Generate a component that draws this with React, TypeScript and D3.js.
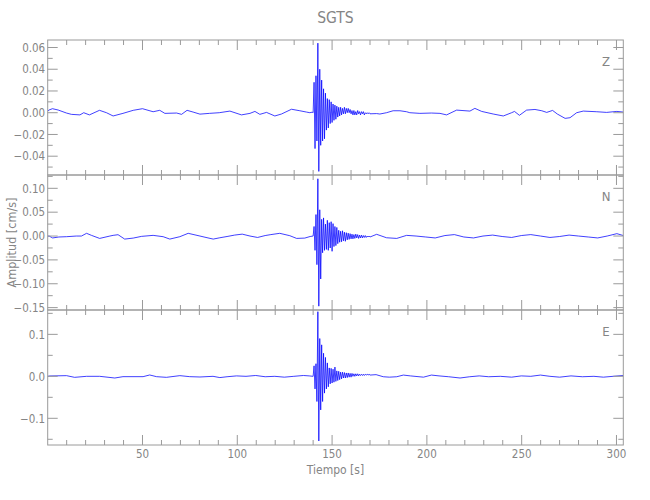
import React from "react";
import * as d3 from "d3";

const titleText = "SGTS";
const xLabelText = "Tiempo [s]";
const yLabelText = "Amplitud [cm/s]";
const channelNames = ["Z", "N", "E"];
const xMajorTicks = [50, 100, 150, 200, 250, 300];
const zMajorTicks = [0.06, 0.04, 0.02, 0.0, -0.02, -0.04];
const nMajorTicks = [0.1, 0.05, 0.0, -0.05, -0.1, -0.15];
const eMajorTicks = [0.1, 0.0, -0.1];

// uniformly sampled strong-motion window (s)
const eventStart = 140.0;
const eventStep = 0.5;

// Z component
const zPre: [number, number][] = [
  [0, 0.0015], [0.7, 0.0025], [2.5, 0.0037], [5.5, 0.0025], [9.9, -0.0003], [12.5, -0.0015],
  [17.0, -0.002], [19.0, 0.0], [22.0, -0.002], [27.3, 0.0022], [31.0, 0.0], [34.5, -0.003],
  [39.7, -0.0006], [45.1, 0.0022], [50.0, 0.0037], [55.6, 0.0009], [59.1, 0.0022], [61.8, -0.0006],
  [68.0, -0.0003], [70.6, -0.0015], [73.5, 0.0022], [76.7, 0.0006], [80.3, -0.0013], [85.3, -0.0006],
  [90.5, 0.0], [96.1, 0.0015], [102.2, -0.002], [106.7, -0.0006], [109.3, 0.0012], [111.9, -0.0015],
  [115.4, 0.0003], [119.8, -0.003], [123.3, -0.0012], [128.6, 0.0032], [133.0, 0.0018], [136.5, 0.0006],
  [138.3, 0.0], [139.5, 0.0005],
];
const zEvent = [
  0.0, 0.028, -0.033, 0.034, -0.026, 0.064, -0.054, 0.04, -0.03, 0.03, -0.026, 0.022, -0.024, 0.018,
  -0.016, 0.013, -0.014, 0.012, -0.01, 0.01, -0.009, 0.008, -0.007, 0.007, -0.006, 0.006, -0.004, 0.005,
  -0.003, 0.005, -0.002, 0.004, -0.001, 0.005, -0.001, 0.004, 0.0, 0.004, 0.0, 0.003, -0.001, 0.002,
  -0.002, 0.002, -0.002, 0.001, -0.002, 0.002, -0.001, 0.001, -0.002, 0.001, -0.001, 0.001, -0.002,
  0.0, -0.001, 0.0, -0.001, 0.0, -0.001,
];
const zPost: [number, number][] = [
  [173.5, -0.0008], [175.2, -0.0012], [178.7, 0.0], [182.2, 0.0018], [185.8, 0.0018], [189.3, 0.0009],
  [191.0, 0.0], [196.3, -0.0006], [202.4, -0.0003], [206.9, -0.0006], [210.4, -0.002], [215.7, 0.0024],
  [222.7, 0.0015], [225.3, 0.004], [228.9, 0.0012], [235.0, -0.0012], [240.3, -0.003], [244.7, 0.0],
  [246.2, 0.0012], [248.8, -0.0024], [252.6, 0.0024], [257.0, 0.003], [260.6, 0.0018], [263.2, 0.0003],
  [266.3, 0.0021], [268.8, -0.0012], [272.9, -0.0052], [275.5, -0.0046], [279.0, 0.0], [282.5, 0.0015],
  [289.6, 0.0009], [294.8, 0.0003], [300.2, 0.0012], [303.6, 0.0006],
];

// N component
const nPre: [number, number][] = [
  [0, 0.0], [0.9, -0.0004], [2.6, -0.004], [5.9, -0.002], [9.9, -0.0014], [15.1, 0.0], [17.8, 0.0],
  [20.5, 0.0057], [23.1, 0.0014], [27.4, -0.005], [32.8, 0.0], [34.5, 0.0014], [37.1, 0.0028],
  [40.6, -0.0064], [45.1, -0.0043], [49.5, -0.0007], [55.6, 0.0014], [60.9, -0.0014], [64.4, -0.0064],
  [69.7, -0.0014], [74.1, 0.0057], [80.3, 0.0], [83.5, -0.003], [87.3, -0.0064], [90.8, -0.0036],
  [94.6, -0.001], [98.6, 0.002], [102.6, 0.004], [106.7, 0.0], [110.7, -0.003], [114.7, 0.001],
  [117.7, 0.003], [122.4, 0.0057], [127.7, 0.0007], [131.3, -0.005], [135.6, -0.0043], [138.4, -0.001],
];
const nEvent = [
  0.0, 0.02, -0.03, 0.045, -0.06, 0.12, -0.147, 0.055, -0.09, 0.035, -0.035, 0.038, -0.03, 0.025,
  -0.028, 0.033, -0.03, 0.028, -0.025, 0.03, -0.032, 0.026, -0.022, 0.02, -0.02, 0.018, -0.016, 0.012,
  -0.013, 0.01, -0.012, 0.011, -0.01, 0.008, -0.011, 0.007, -0.008, 0.006, -0.007, 0.005, -0.006, 0.004,
  -0.006, 0.003, -0.005, 0.004, -0.004, 0.003, -0.005, 0.002, -0.004, 0.002, -0.004, 0.001, -0.003,
  0.001, -0.003, 0.0, -0.002, 0.0, -0.002,
];
const nPost: [number, number][] = [
  [173.5, 0.0036], [178.7, -0.0036], [184.1, -0.005], [189.3, 0.0014], [194.3, 0.0], [199.4, -0.002],
  [204.4, -0.004], [209.5, 0.001], [214.5, 0.003], [219.5, -0.002], [224.6, -0.004], [229.6, 0.0],
  [234.7, 0.002], [239.7, -0.001], [244.7, -0.003], [249.8, 0.001], [254.8, 0.003], [259.9, 0.0],
  [264.9, -0.003], [270.0, -0.001], [275.0, 0.002], [280.0, 0.0], [285.1, -0.002], [290.1, -0.004],
  [295.1, 0.0], [300.2, 0.005], [303.6, 0.001],
];

// E component
const ePre: [number, number][] = [
  [0, 0.0], [1.0, 0.0008], [9.9, 0.0016], [14.2, -0.0024], [20.5, 0.0], [27.4, 0.0], [35.4, -0.004],
  [39.7, -0.0008], [50.3, -0.0008], [53.8, 0.0032], [57.4, -0.0008], [62.6, -0.0024], [69.7, 0.0016],
  [74.9, -0.0008], [80.3, -0.0016], [87.2, 0.0], [90.8, -0.003], [94.6, -0.001], [99.6, 0.001],
  [104.6, 0.0], [109.7, 0.002], [114.7, -0.001], [119.8, 0.0], [124.8, -0.002], [129.8, 0.0],
  [134.9, 0.002], [137.9, 0.001],
];
const eEvent = [
  0.0, 0.025, -0.03, 0.03, -0.06, 0.154, -0.154, 0.09, -0.08, 0.075, -0.06, 0.055, -0.04, 0.045, -0.03,
  0.032, -0.025, 0.02, -0.018, 0.019, -0.016, 0.017, -0.014, 0.022, -0.012, 0.013, -0.01, 0.012, -0.008,
  0.01, -0.006, 0.01, -0.004, 0.009, -0.004, 0.008, -0.003, 0.008, -0.002, 0.007, -0.002, 0.007, 0.0,
  0.006, 0.0, 0.006, 0.001, 0.006, 0.001, 0.005, 0.002, 0.005, 0.002, 0.005, 0.002, 0.005, 0.003, 0.005,
  0.003, 0.005, 0.003,
];
const ePost: [number, number][] = [
  [173.2, 0.004], [177.0, -0.001], [180.2, -0.002], [184.1, -0.001], [187.6, 0.003], [191.3, 0.001],
  [198.2, -0.002], [202.4, 0.003], [206.4, 0.001], [211.5, -0.001], [217.5, -0.004], [222.6, -0.001],
  [227.6, 0.001], [232.6, -0.001], [238.7, 0.0], [244.7, -0.002], [249.8, 0.001], [254.8, 0.0],
  [259.9, 0.003], [264.9, 0.0], [270.0, -0.002], [276.0, 0.001], [282.0, -0.001], [288.1, 0.0],
  [293.1, -0.002], [298.2, 0.0], [303.6, 0.002],
];

const FONT = "'Liberation Sans Narrow', 'DejaVu Sans Condensed', 'Liberation Sans', sans-serif";
const AXIS = "#9a9a9a";
const TEXT = "#858585";

function buildSeries(pre: [number, number][], ev: number[], post: [number, number][]) {
  const mid: [number, number][] = ev.map((v, i) => [eventStart + i * eventStep, v]);
  return [...pre, ...mid, ...post];
}

export default function App() {
  const W = 650, H = 500;
  const left = 47.7, right = 623.3;
  const x = d3.scaleLinear().domain([0, 303.6]).range([left, right]);

  const panels = [
    { name: channelNames[0], top: 40, bottom: 175, domain: [-0.0573, 0.0669], major: zMajorTicks, minorStep: 0.01, fmt: d3.format(".2f"), data: buildSeries(zPre, zEvent, zPost) },
    { name: channelNames[1], top: 175, bottom: 310, domain: [-0.155, 0.1279], major: nMajorTicks, minorStep: 0.025, fmt: d3.format(".2f"), data: buildSeries(nPre, nEvent, nPost) },
    { name: channelNames[2], top: 310, bottom: 445, domain: [-0.1636, 0.158], major: eMajorTicks, minorStep: 0.05, fmt: d3.format(".1f"), data: buildSeries(ePre, eEvent, ePost) },
  ];

  const xMinor = d3.range(10, 301, 10).filter((t) => t % 50 !== 0);

  return (
    <svg width={W} height={H} style={{ position: "absolute", left: 0, top: 0, background: "#fff" }} fontFamily={FONT}>
      <defs>
        {panels.map((p, i) => (
          <clipPath id={`clip${i}`} key={i}>
            <rect x={left} y={p.top} width={right - left} height={p.bottom - p.top} />
          </clipPath>
        ))}
      </defs>
      <text x={(left + right) / 2} y={23} textAnchor="middle" fontSize={15.5} fill={TEXT}>{titleText}</text>
      {panels.map((p, i) => {
        const y = d3.scaleLinear().domain(p.domain).range([p.bottom, p.top]);
        const line = d3.line<[number, number]>().x((d) => x(d[0])).y((d) => y(d[1]));
        const minor: number[] = [];
        const start = Math.ceil(p.domain[0] / p.minorStep - 1e-6);
        const end = Math.floor(p.domain[1] / p.minorStep + 1e-6);
        for (let k = start; k <= end; k++) {
          const v = k * p.minorStep;
          if (!p.major.some((m) => Math.abs(m - v) < 1e-6)) minor.push(v);
        }
        return (
          <g key={i}>
            <path d={line(p.data) || ""} fill="none" stroke="#0000ff" strokeWidth={0.75} clipPath={`url(#clip${i})`} />
            <rect x={left} y={p.top} width={right - left} height={p.bottom - p.top} fill="none" stroke={AXIS} strokeWidth={1} />
            {xMajorTicks.map((t) => (
              <g key={`xm${t}`}>
                <line x1={x(t)} x2={x(t)} y1={p.bottom} y2={p.bottom - 10} stroke={AXIS} />
                <line x1={x(t)} x2={x(t)} y1={p.top} y2={p.top + 10} stroke={AXIS} />
              </g>
            ))}
            {xMinor.map((t) => (
              <g key={`xn${t}`}>
                <line x1={x(t)} x2={x(t)} y1={p.bottom} y2={p.bottom - 5} stroke={AXIS} />
                <line x1={x(t)} x2={x(t)} y1={p.top} y2={p.top + 5} stroke={AXIS} />
              </g>
            ))}
            {p.major.map((v) => (
              <g key={`ym${v}`}>
                <line x1={left} x2={left + 10} y1={y(v)} y2={y(v)} stroke={AXIS} />
                <line x1={right} x2={right - 10} y1={y(v)} y2={y(v)} stroke={AXIS} />
                <text x={left - 2.5} y={y(v) + 4.2} textAnchor="end" fontSize={11.5} fill={TEXT}>
                  {p.fmt(v)}
                </text>
              </g>
            ))}
            {minor.map((v) => (
              <g key={`yn${v}`}>
                <line x1={left} x2={left + 5} y1={y(v)} y2={y(v)} stroke={AXIS} />
                <line x1={right} x2={right - 5} y1={y(v)} y2={y(v)} stroke={AXIS} />
              </g>
            ))}
            <text x={606} y={p.top + 26} textAnchor="middle" fontSize={13} fill={TEXT}>{p.name}</text>
          </g>
        );
      })}
      {xMajorTicks.map((t) => (
        <text key={`xl${t}`} x={x(t)} y={458} textAnchor="middle" fontSize={11.5} fill={TEXT}>{t}</text>
      ))}
      <text x={(left + right) / 2} y={474} textAnchor="middle" fontSize={12} fill={TEXT}>{xLabelText}</text>
      <text transform={`translate(16, ${(40 + 445) / 2}) rotate(-90)`} textAnchor="middle" fontSize={12.5} fill={TEXT}>{yLabelText}</text>
    </svg>
  );
}
